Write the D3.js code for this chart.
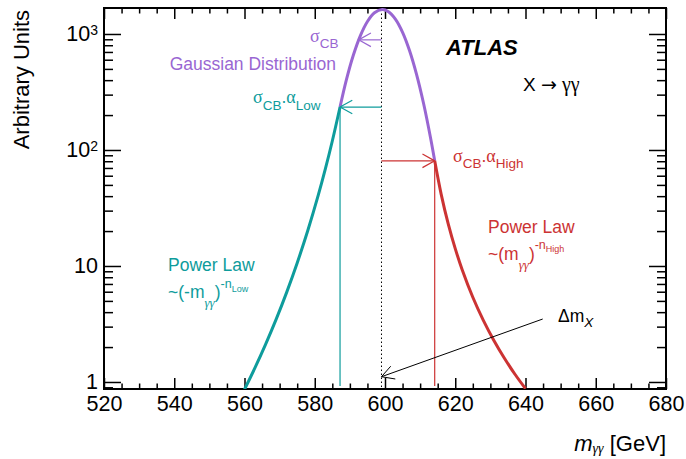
<!DOCTYPE html>
<html><head><meta charset="utf-8">
<script src="https://cdn.jsdelivr.net/npm/d3@7"></script>
<style>
body{margin:0;background:#fff}
svg{display:block}
text{font-family:"Liberation Sans",Arial,sans-serif}
</style>
</head><body>
<svg id="c" width="686" height="459"></svg>
<script>
// ---- data ----
const lowTailMass   = [560, 563, 566, 569, 572, 575, 578, 581, 583, 585, 587.2];
const lowTailValue  = [0.8615, 1.328, 2.109, 3.463, 5.924, 10.62, 20.10, 40.75, 68.32, 119.5, 234.6];
const gaussMass     = [587.2, 589, 591, 593, 595, 597, 599.2, 601, 603, 605, 607, 609, 611, 613, 614.15];
const gaussValue    = [234.6, 401.6, 658.5, 969.5, 1282, 1523, 1625, 1556, 1338, 1034, 717.4, 447.1, 250.2, 125.7, 80.6];
const highTailMass  = [614.15, 616, 618, 620, 622, 625, 628, 631, 634, 637, 640];
const highTailValue = [80.6, 41.44, 23.06, 14.11, 9.245, 5.377, 3.397, 2.279, 1.601, 1.166, 0.876];
const xMajorTicks = [520, 540, 560, 580, 600, 620, 640, 660, 680];
const yMajorTicks = [1, 10, 100, 1000];
const massX = 599.0;           // position of the dotted line (m_X)
const sigmaArrowLevel = 890;   // level of the sigma arrow
const sigmaArrowTip = 592.5;
const lowJunction = [587.2, 234.6];
const highJunction = [614.15, 80.6];
const deltaArrow = [[644.9, 3.49], [599.0, 1.11]];

const colTeal = "#0e9c9c", colPurple = "#9966d2", colRed = "#cc3333";

const svg = d3.select("#c");
const L = 104, R = 666, T = 8, B = 389;
const x = d3.scaleLinear().domain([520, 680]).range([L, R]);
const y = d3.scaleLog().domain([0.87, 1675]).range([B, T]);

svg.append("defs").append("clipPath").attr("id", "clip")
  .append("rect").attr("x", L).attr("y", T).attr("width", R - L).attr("height", B - T);

// ---- axes ----
const xMinor = d3.range(520, 681, 5).filter(v => v % 20 !== 0);
const yMinor = [];
[0.1, 1, 10, 100].forEach(d => { for (let k = 2; k <= 9; k++) yMinor.push(d * k); });
const yMinorIn = yMinor.filter(v => v >= 0.87 && v <= 1675);

function styleAxis(g) {
  g.select(".domain").remove();
  g.selectAll(".tick line").attr("stroke", "#000").attr("stroke-width", 1.5);
}
// bottom
svg.append("g").attr("transform", `translate(0,${B})`)
  .call(d3.axisBottom(x).tickValues(xMajorTicks).tickSize(-11).tickPadding(7).tickFormat(d3.format("d")))
  .call(styleAxis)
  .call(g => g.selectAll("text").attr("font-size", 21.5).attr("fill", "#000").style("font-family", "Liberation Sans, Arial, sans-serif"));
svg.append("g").attr("transform", `translate(0,${B})`)
  .call(d3.axisBottom(x).tickValues(xMinor).tickSize(-5.5).tickFormat(""))
  .call(styleAxis);
// top
svg.append("g").attr("transform", `translate(0,${T})`)
  .call(d3.axisTop(x).tickValues(xMajorTicks).tickSize(-11).tickFormat(""))
  .call(styleAxis);
svg.append("g").attr("transform", `translate(0,${T})`)
  .call(d3.axisTop(x).tickValues(xMinor).tickSize(-5.5).tickFormat(""))
  .call(styleAxis);
// left
const yl = svg.append("g").attr("transform", `translate(${L},0)`)
  .call(d3.axisLeft(y).tickValues(yMajorTicks).tickSize(-17).tickPadding(6).tickFormat(""))
  .call(styleAxis);
yl.selectAll(".tick text").each(function(d) {
  const t = d3.select(this).attr("font-size", 21.5).attr("fill", "#000")
    .style("font-family", "Liberation Sans, Arial, sans-serif");
  const e = Math.round(Math.log10(d));
  if (e <= 1) { t.text(String(d)); }
  else {
    t.append("tspan").text("10");
    t.append("tspan").attr("font-size", 14).attr("dy", "-0.45em").text(String(e));
  }
});
svg.append("g").attr("transform", `translate(${L},0)`)
  .call(d3.axisLeft(y).tickValues(yMinorIn).tickSize(-9).tickFormat(""))
  .call(styleAxis);
// right
svg.append("g").attr("transform", `translate(${R},0)`)
  .call(d3.axisRight(y).tickValues(yMajorTicks).tickSize(-17).tickFormat(""))
  .call(styleAxis);
svg.append("g").attr("transform", `translate(${R},0)`)
  .call(d3.axisRight(y).tickValues(yMinorIn).tickSize(-9).tickFormat(""))
  .call(styleAxis);

// frame
svg.append("rect").attr("x", L).attr("y", T).attr("width", R - L).attr("height", B - T)
  .attr("fill", "none").attr("stroke", "#000").attr("stroke-width", 2);

// ---- guide lines ----
const plot = svg.append("g").attr("clip-path", "url(#clip)");
plot.append("line")
  .attr("x1", x(massX)).attr("x2", x(massX)).attr("y1", y(gaussValue[6])).attr("y2", B)
  .attr("stroke", "#000").attr("stroke-width", 1).attr("stroke-dasharray", "1.5,2.5");
plot.append("line")
  .attr("x1", x(lowJunction[0])).attr("x2", x(lowJunction[0]))
  .attr("y1", y(lowJunction[1])).attr("y2", B - 3)
  .attr("stroke", colTeal).attr("stroke-width", 1.2);
plot.append("line")
  .attr("x1", x(highJunction[0])).attr("x2", x(highJunction[0]))
  .attr("y1", y(highJunction[1])).attr("y2", B - 3)
  .attr("stroke", colRed).attr("stroke-width", 1.2);

function arrow(x1, y1, x2, y2, color, len, ang, w) {
  const g = svg.append("g").attr("stroke", color).attr("stroke-width", w).attr("fill", "none");
  g.append("line").attr("x1", x1).attr("y1", y1).attr("x2", x2).attr("y2", y2);
  const a = Math.atan2(y1 - y2, x1 - x2);
  const r = ang * Math.PI / 180;
  g.append("path").attr("d",
    `M${x2 + len * Math.cos(a + r)},${y2 + len * Math.sin(a + r)}L${x2},${y2}L${x2 + len * Math.cos(a - r)},${y2 + len * Math.sin(a - r)}`);
}
arrow(x(massX), y(sigmaArrowLevel), x(sigmaArrowTip), y(sigmaArrowLevel), colPurple, 14, 29, 1.2);
arrow(x(massX), y(lowJunction[1]), x(lowJunction[0]), y(lowJunction[1]), colTeal, 14, 29, 1.2);
arrow(x(massX), y(highJunction[1]), x(highJunction[0]), y(highJunction[1]), colRed, 14, 29, 1.2);
arrow(x(deltaArrow[0][0]), y(deltaArrow[0][1]), x(deltaArrow[1][0]), y(deltaArrow[1][1]), "#000", 14, 29, 1);

// ---- curves ----
const line = d3.line().x(d => x(d[0])).y(d => y(d[1])).curve(d3.curveCatmullRom.alpha(0.5));
const seg = (m, v) => m.map((d, i) => [d, v[i]]);
plot.append("path").datum(seg(lowTailMass, lowTailValue)).attr("d", line)
  .attr("fill", "none").attr("stroke", colTeal).attr("stroke-width", 3);
plot.append("path").datum(seg(highTailMass, highTailValue)).attr("d", line)
  .attr("fill", "none").attr("stroke", colRed).attr("stroke-width", 3);
plot.append("path").datum(seg(gaussMass, gaussValue)).attr("d", line)
  .attr("fill", "none").attr("stroke", colPurple).attr("stroke-width", 3);

// ---- rich text helper ----
const SANS = "Liberation Sans, Arial, sans-serif", SERIF = "Liberation Serif, Times New Roman, serif";
function rich(px, py, parts, opts = {}) {
  const t = svg.append("text").attr("x", px).attr("y", py)
    .attr("fill", opts.color || "#000").attr("text-anchor", opts.anchor || "start");
  let prev = 0;
  parts.forEach(p => {
    const off = p.off || 0;
    const s = t.append("tspan").text(p.t).attr("font-size", p.s || 17.5)
      .style("font-family", p.f || SANS).attr("dy", off - prev);
    if (p.it) s.attr("font-style", "italic");
    if (p.b) s.attr("font-weight", "bold");
    prev = off;
  });
  return t;
}

// titles
svg.append("text").attr("transform", "translate(29,10) rotate(-90)")
  .attr("text-anchor", "end").attr("font-size", 22).text("Arbitrary Units");
rich(666, 451, [
  { t: "m", s: 22, it: true },
  { t: "γγ", s: 14, it: true, f: SERIF, off: 2 },
  { t: " [GeV]", s: 22, off: 0 }
], { anchor: "end" });

// labels
rich(446, 55, [{ t: "ATLAS", s: 22, b: true, it: true }]);
rich(523, 91, [
  { t: "X ", s: 19 },
  { t: "\u2192", s: 19, f: "DejaVu Sans, sans-serif" },
  { t: " γγ", s: 20, f: SERIF }
]);

rich(310, 42, [{ t: "σ", s: 18, f: SERIF }, { t: "CB", s: 13.5, off: 6 }], { color: colPurple });
rich(336, 70, [{ t: "Gaussian Distribution", s: 17.5 }], { color: colPurple, anchor: "end" });

rich(253, 103, [
  { t: "σ", s: 18, f: SERIF }, { t: "CB", s: 13.5, off: 7 }, { t: ".", s: 17.5, off: 0 },
  { t: "α", s: 18, f: SERIF, off: 0 }, { t: "Low", s: 13.5, off: 7 }
], { color: colTeal });

rich(453, 162, [
  { t: "σ", s: 18, f: SERIF }, { t: "CB", s: 13.5, off: 6 }, { t: ".", s: 17.5, off: 0 },
  { t: "α", s: 18, f: SERIF, off: 0 }, { t: "High", s: 13.5, off: 6 }
], { color: colRed });

rich(168, 271, [{ t: "Power Law", s: 17.5 }], { color: colTeal });
rich(168, 298, [
  { t: "~(-m", s: 17.5 }, { t: "γγ", s: 13, it: true, f: SERIF, off: 9 },
  { t: ")", s: 17.5, off: 0 }, { t: "-n", s: 12.5, off: -10 }, { t: "Low", s: 9, off: -6 }
], { color: colTeal });

rich(488, 233, [{ t: "Power Law", s: 17.5 }], { color: colRed });
rich(488, 260, [
  { t: "~(m", s: 17.5 }, { t: "γγ", s: 13, it: true, f: SERIF, off: 9 },
  { t: ")", s: 17.5, off: 0 }, { t: "-n", s: 12.5, off: -11 }, { t: "High", s: 9, off: -8 }
], { color: colRed });

rich(558, 322, [{ t: "Δm", s: 17.5 }, { t: "X", s: 13.5, it: true, off: 5 }]);
</script>
</body></html>
